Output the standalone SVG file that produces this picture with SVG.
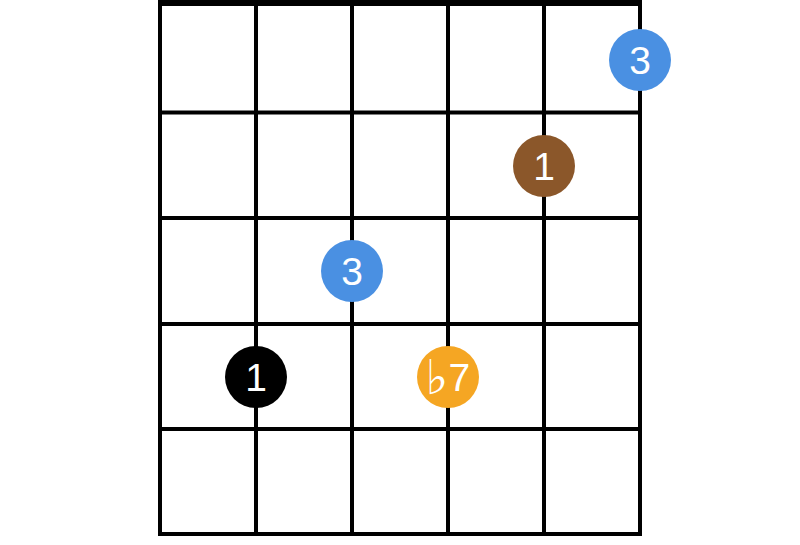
<svg xmlns="http://www.w3.org/2000/svg" width="800" height="545" viewBox="0 0 800 545">
<style>
.g{stroke:#000;stroke-width:4;fill:none}
.n text{font-family:"Liberation Sans",Arial,sans-serif;font-size:39px;fill:#fff;text-anchor:middle;dominant-baseline:central}
.fl{font-family:"DejaVu Sans",sans-serif;font-size:48px}
</style>
<rect width="800" height="545" fill="#fff"/>
<g id="grid" class="g">
<line x1="158" y1="3" x2="642" y2="3" stroke-width="6"/>
<line x1="158" y1="112.5" x2="642" y2="112.5"/>
<line x1="158" y1="218" x2="642" y2="218"/>
<line x1="158" y1="324" x2="642" y2="324"/>
<line x1="158" y1="429" x2="642" y2="429"/>
<line x1="158" y1="534" x2="642" y2="534"/>
<line x1="160" y1="0" x2="160" y2="536"/>
<line x1="256" y1="0" x2="256" y2="536"/>
<line x1="352" y1="0" x2="352" y2="536"/>
<line x1="448" y1="0" x2="448" y2="536"/>
<line x1="544" y1="0" x2="544" y2="536"/>
<line x1="640" y1="0" x2="640" y2="536"/>
</g>
<g id="connectors"></g>
<g id="n1" class="n"><circle cx="640" cy="60" r="31" fill="#4a90e2"/><text x="640" y="60">3</text></g>
<g id="n2" class="n"><circle cx="544" cy="166" r="31" fill="#8b572a"/><text x="544" y="166">1</text></g>
<g id="n3" class="n"><circle cx="352" cy="271" r="31" fill="#4a90e2"/><text x="352" y="271">3</text></g>
<g id="n4" class="n"><circle cx="256" cy="377" r="31" fill="#000"/><text x="256" y="377">1</text></g>
<g id="n5" class="n"><circle cx="448" cy="377" r="31" fill="#f5a623"/><text x="448" y="377"><tspan class="fl">♭</tspan>7</text></g>
</svg>
